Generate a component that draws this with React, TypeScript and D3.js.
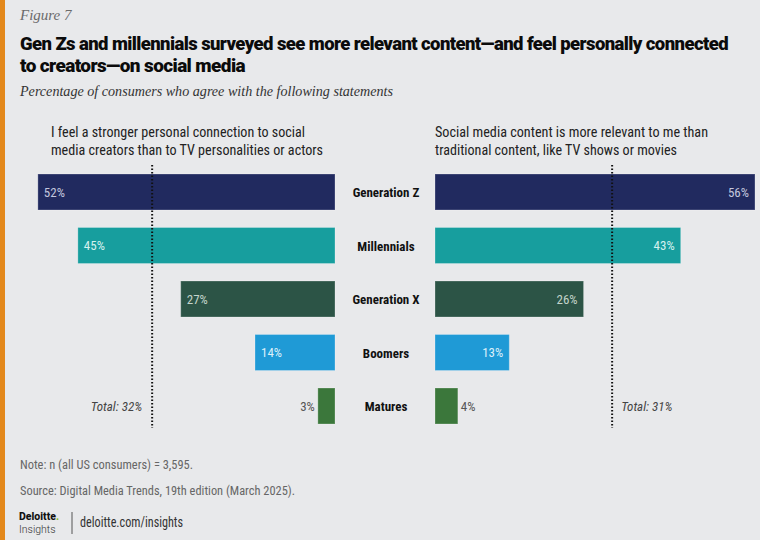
import React from "react";
import * as d3 from "d3";

const categories = ["Generation Z", "Millennials", "Generation X", "Boomers", "Matures"];
const connectionValues = [52, 45, 27, 14, 3];
const relevanceValues = [56, 43, 26, 13, 4];
const connectionTotal = 32;
const relevanceTotal = 31;
const barColors = ["#212A5F", "#179E9E", "#2C5446", "#1F9AD6", "#3B773B"];
const labelColors = ["#C3C7DE", "#D4F1EF", "#C4D4CB", "#DDF0FA", "#555555"];
const leftHeader = [
  "I feel a stronger personal connection to social",
  "media creators than to TV personalities or actors",
];
const rightHeader = [
  "Social media content is more relevant to me than",
  "traditional content, like TV shows or movies",
];
const titleLines = [
  "Gen Zs and millennials surveyed see more relevant content\u2014and feel personally connected",
  "to creators\u2014on social media",
];

const W = 760;
const H = 540;
const NARROW = "'Liberation Sans Narrow', 'Roboto Condensed', 'Roboto', sans-serif";
const SERIF2 = "'Liberation Serif', 'DejaVu Serif', serif";

export default function App() {
  const pxPerPct = 5.714;
  const leftX = d3.scaleLinear().domain([0, 60]).range([335, 335 - 60 * pxPerPct]);
  const rightX = d3.scaleLinear().domain([0, 60]).range([435, 435 + 60 * pxPerPct]);
  const y = d3.scalePoint<string>().domain(categories).range([192, 406]);
  const barH = 36;
  const threshold = 8;

  return (
    <svg
      width={W}
      height={H}
      style={{ position: "absolute", left: 0, top: 0, display: "block" }}
    >
      <rect x={0} y={0} width={W} height={H} fill="#E8E9EB" />
      <rect x={0} y={0} width={5} height={H} fill="#E3881B" />

      <text x={20} y={20} fontFamily={SERIF2} fontStyle="italic" fontSize={15} fill="#6b6b6b">
        Figure 7
      </text>
      {titleLines.map((t, i) => (
        <text
          key={i}
          x={20}
          y={50 + i * 22}
          fontFamily="'Roboto', 'Liberation Sans', sans-serif"
          fontWeight={900}
          fontSize={19}
          letterSpacing={-0.6}
          fill="#0b0b0b"
          textLength={i === 0 ? 708 : 225}
          lengthAdjust="spacingAndGlyphs"
        >
          {t}
        </text>
      ))}
      <text
        x={20}
        y={96}
        fontFamily={SERIF2}
        fontStyle="italic"
        fontSize={15}
        fill="#333"
        textLength={373}
        lengthAdjust="spacingAndGlyphs"
      >
        Percentage of consumers who agree with the following statements
      </text>

      {leftHeader.map((t, i) => (
        <text key={"l" + i} x={51} y={137 + i * 18} fontFamily={NARROW} fontSize={15} fill="#222"
          textLength={i === 0 ? 254 : 272} lengthAdjust="spacingAndGlyphs">
          {t}
        </text>
      ))}
      {rightHeader.map((t, i) => (
        <text key={"r" + i} x={435} y={137 + i * 18} fontFamily={NARROW} fontSize={15} fill="#222"
          textLength={i === 0 ? 273 : 242} lengthAdjust="spacingAndGlyphs">
          {t}
        </text>
      ))}

      {categories.map((c, i) => {
        const cy = y(c) as number;
        const lv = connectionValues[i];
        const rv = relevanceValues[i];
        const lInside = lv >= threshold;
        const rInside = rv >= threshold;
        return (
          <g key={c}>
            <rect
              x={leftX(lv)}
              y={cy - barH / 2}
              width={leftX(0) - leftX(lv)}
              height={barH}
              fill={barColors[i]}
              stroke="#ffffff"
              strokeOpacity={0.25}
              strokeWidth={1}
            />
            <rect
              x={rightX(0)}
              y={cy - barH / 2}
              width={rightX(rv) - rightX(0)}
              height={barH}
              fill={barColors[i]}
              stroke="#ffffff"
              strokeOpacity={0.25}
              strokeWidth={1}
            />
            <text
              x={lInside ? leftX(lv) + 6 : leftX(lv) - 3}
              y={cy + 4.5}
              textAnchor={lInside ? "start" : "end"}
              fontFamily={NARROW}
              fontSize={13}
              fill={lInside ? labelColors[i] : "#555"}
            >
              {lv}%
            </text>
            <text
              x={rInside ? rightX(rv) - 6 : rightX(rv) + 3}
              y={cy + 4.5}
              textAnchor={rInside ? "end" : "start"}
              fontFamily={NARROW}
              fontSize={13}
              fill={rInside ? labelColors[i] : "#555"}
            >
              {rv}%
            </text>
            <text
              x={386}
              y={cy + 5}
              textAnchor="middle"
              fontFamily={NARROW}
              fontWeight={700}
              fontSize={13}
              fill="#111"
            >
              {c}
            </text>
          </g>
        );
      })}

      <line x1={leftX(connectionTotal)} x2={leftX(connectionTotal)} y1={165} y2={428}
        stroke="#111" strokeWidth={2} strokeDasharray="1.5,2" />
      <line x1={rightX(relevanceTotal)} x2={rightX(relevanceTotal)} y1={165} y2={428}
        stroke="#111" strokeWidth={2} strokeDasharray="1.5,2" />
      <text x={leftX(connectionTotal) - 10} y={411} textAnchor="end" fontFamily={NARROW}
        fontStyle="italic" fontSize={13} fill="#444">
        Total: {connectionTotal}%
      </text>
      <text x={rightX(relevanceTotal) + 9} y={411} textAnchor="start" fontFamily={NARROW}
        fontStyle="italic" fontSize={13} fill="#444">
        Total: {relevanceTotal}%
      </text>

      <text x={20} y={469} fontFamily={NARROW} fontSize={13} fill="#666"
        textLength={173} lengthAdjust="spacingAndGlyphs">
        Note: n (all US consumers) = 3,595.
      </text>
      <text x={20} y={495} fontFamily={NARROW} fontSize={13} fill="#666"
        textLength={275} lengthAdjust="spacingAndGlyphs">
        Source: Digital Media Trends, 19th edition (March 2025).
      </text>

      <text x={19} y={520} fontFamily="'Roboto', 'Liberation Sans', sans-serif" fontWeight={800} fontSize={10.5} fill="#111">
        Deloitte<tspan fill="#86BC25">.</tspan>
      </text>
      <text x={19} y={533} fontFamily="'Roboto', 'Liberation Sans', sans-serif" fontWeight={300} fontSize={10.5} fill="#333">
        Insights
      </text>
      <line x1={72} x2={72} y1={512} y2={534} stroke="#555" strokeWidth={1} />
      <text x={80} y={527} fontFamily={NARROW} fontSize={14} fill="#333"
        textLength={103} lengthAdjust="spacingAndGlyphs">
        deloitte.com/insights
      </text>
    </svg>
  );
}
